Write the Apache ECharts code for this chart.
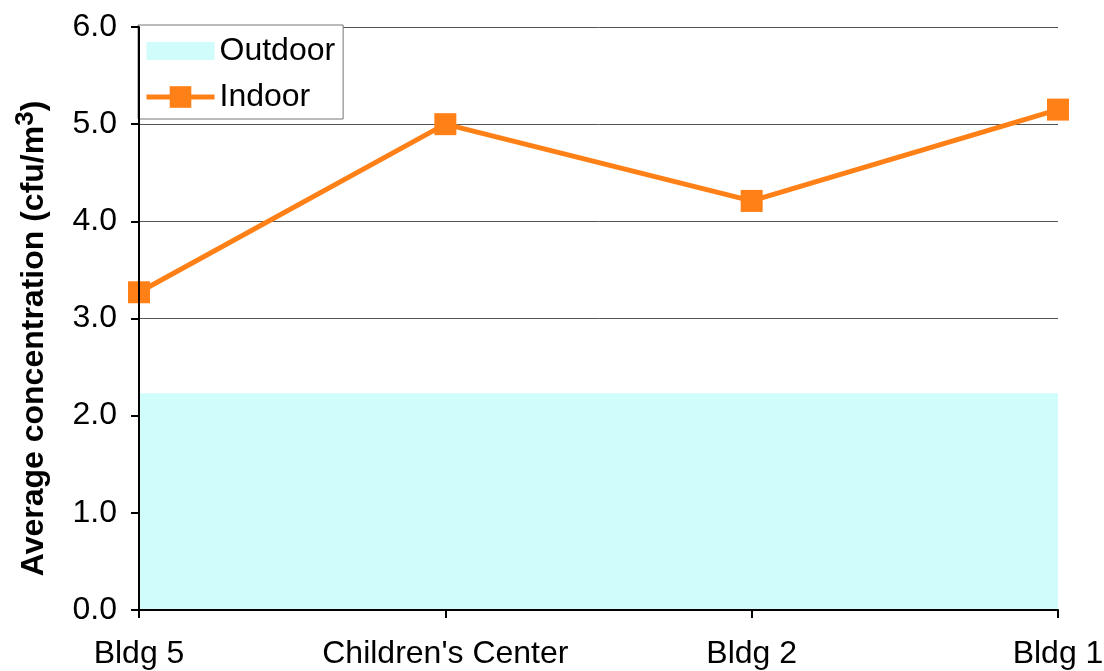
<!DOCTYPE html>
<html><head><meta charset="utf-8">
<script src="https://cdn.jsdelivr.net/npm/echarts@6/dist/echarts.min.js"></script>
<style>html,body{margin:0;padding:0;background:#fff}#c{width:1104px;height:671px}</style>
</head><body><div id="c"></div>
<script>
const categories = ["Bldg 5", "Children's Center", "Bldg 2", "Bldg 1"];
const outdoor = [2.23, 2.23, 2.23, 2.23];
const indoor = [3.27, 5.0, 4.21, 5.15];
const yTicks = { min: 0, max: 6, interval: 1 };

const chart = echarts.init(document.getElementById('c'));
const font = 'Liberation Sans, Arial, sans-serif';
const orange = '#ff8016';
const cyan = '#d0fcfc';
chart.setOption({
  animation: false,
  textStyle: { fontFamily: font },
  grid: { left: 139, right: 46, top: 27, bottom: 61, containLabel: false, outerBoundsMode: 'none' },
  legend: {
    orient: 'vertical', left: 138, top: 25,
    padding: [10, 8, 6, 6],
    itemGap: 14,
    itemWidth: 68, itemHeight: 27,
    borderColor: '#777', borderWidth: 1, backgroundColor: '#fff',
    textStyle: { fontFamily: font, fontSize: 32, color: '#000' },
    z: 5,
    data: [
      { name: 'Outdoor', icon: 'path://M0,0L0,0M0,4.5L68,4.5L68,22.5L0,22.5ZM0,27L0,27', itemStyle: { color: cyan } },
      { name: 'Indoor', lineStyle: { width: 5, color: orange } }
    ]
  },
  xAxis: {
    type: 'category', data: categories, boundaryGap: false, z: 10,
    axisLine: { lineStyle: { color: '#000', width: 2 } },
    axisTick: { show: true, length: 8, lineStyle: { color: '#000', width: 2 } },
    axisLabel: { fontFamily: font, fontSize: 32, color: '#000', margin: 28, interval: 0 },
    splitLine: { show: false }
  },
  yAxis: [{
    type: 'value', min: yTicks.min, max: yTicks.max, interval: yTicks.interval, z: 10,
    axisLine: { show: true, lineStyle: { color: '#000', width: 2 } },
    axisTick: { show: true, length: 8, lineStyle: { color: '#000', width: 2 } },
    axisLabel: { fontFamily: font, fontSize: 32, color: '#000', margin: 22, formatter: v => v.toFixed(1) },
    splitLine: { show: false },
    name: '{a|Average concentration (cfu/m}{s|3}{a|)}',
    nameLocation: 'middle', nameRotate: 90, nameGap: 84,
    nameTextStyle: {
      padding: [0, 40, 0, 0],
      rich: {
        a: { fontFamily: font, fontSize: 32, fontWeight: 'bold', color: '#000' },
        s: { fontFamily: font, fontSize: 26, fontWeight: 'bold', color: '#000', verticalAlign: 'top', padding: [0, 0, 16, 0] }
      }
    }
  }, {
    type: 'value', min: yTicks.min, max: yTicks.max, interval: yTicks.interval, z: 0,
    position: 'left',
    axisLine: { show: false }, axisTick: { show: false }, axisLabel: { show: false },
    splitLine: { show: true, lineStyle: { color: '#555', width: 1 } }
  }],
  series: [
    {
      name: 'Outdoor', type: 'line', data: outdoor, yAxisIndex: 0,
      symbol: 'none', lineStyle: { width: 0, color: cyan },
      itemStyle: { color: cyan },
      areaStyle: { color: cyan, opacity: 1 },
      z: 1
    },
    {
      name: 'Indoor', type: 'line', data: indoor, yAxisIndex: 0,
      symbol: 'rect', symbolSize: 22,
      lineStyle: { width: 5, color: orange },
      itemStyle: { color: orange },
      z: 3
    }
  ]
});
</script></body></html>
